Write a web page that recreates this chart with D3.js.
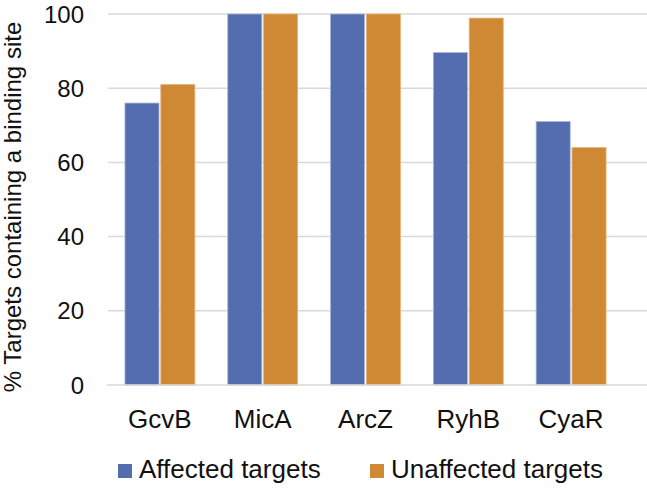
<!DOCTYPE html>
<html>
<head>
<meta charset="utf-8">
<script src="https://cdn.jsdelivr.net/npm/d3@7"></script>
<style>
  body { margin: 0; background: #fff; }
  text { font-family: "Liberation Sans", Arial, sans-serif; fill: #111; }
</style>
</head>
<body>
<div id="chart"></div>
<script>
// data
const categories = ["GcvB", "MicA", "ArcZ", "RyhB", "CyaR"];
const seriesNames = ["Affected targets", "Unaffected targets"];
const affected = [76, 100, 100, 89.6, 71];
const unaffected = [81, 100, 100, 98.9, 64];
const yTicks = [0, 20, 40, 60, 80, 100];

const colors = ["#546dae", "#cf8833"];
const width = 647, height = 489;

const svg = d3.select("#chart").append("svg")
  .attr("width", width)
  .attr("height", height);

const x0 = d3.scaleBand()
  .domain(categories)
  .range([108.5, 622.5])
  .paddingInner(0.32)
  .paddingOuter(0.16);

const x1 = d3.scaleBand()
  .domain(seriesNames)
  .range([0, x0.bandwidth()])
  .paddingInner(0.05);

const y = d3.scaleLinear()
  .domain([0, 100])
  .range([385, 14]);

// gridlines
svg.append("g")
  .selectAll("line")
  .data(yTicks.filter(d => d > 0))
  .join("line")
  .attr("x1", 108)
  .attr("x2", width)
  .attr("y1", d => y(d))
  .attr("y2", d => y(d))
  .attr("stroke", "#d9d9d9")
  .attr("stroke-width", 1.5);

// y tick labels
svg.append("g")
  .selectAll("text")
  .data(yTicks)
  .join("text")
  .attr("x", 84)
  .attr("y", d => y(d))
  .attr("dy", "0.36em")
  .attr("text-anchor", "end")
  .style("font-size", "24px")
  .text(d => d);

// bars
const rows = categories.map((c, i) => ({ cat: c, vals: [affected[i], unaffected[i]] }));

const groups = svg.append("g")
  .selectAll("g")
  .data(rows)
  .join("g")
  .attr("transform", d => `translate(${x0(d.cat)},0)`);

groups.selectAll("rect")
  .data(d => d.vals.map((v, j) => ({ key: seriesNames[j], v, j })))
  .join("rect")
  .attr("x", d => x1(d.key))
  .attr("width", x1.bandwidth())
  .attr("y", d => y(d.v))
  .attr("height", d => y(0) - y(d.v))
  .attr("fill", d => colors[d.j])
  .attr("stroke", d => d.j === 0 ? "#a9b6d8" : "#eab27a")
  .attr("stroke-width", 0.8);

// x axis line
svg.append("line")
  .attr("x1", 107)
  .attr("x2", width)
  .attr("y1", y(0))
  .attr("y2", y(0))
  .attr("stroke", "#d9d9d9")
  .attr("stroke-width", 1.5);

// category labels
svg.append("g")
  .selectAll("text")
  .data(categories)
  .join("text")
  .attr("x", d => x0(d) + x0.bandwidth() / 2)
  .attr("y", 428)
  .attr("text-anchor", "middle")
  .style("font-size", "26px")
  .text(d => d);

// y axis title
svg.append("text")
  .attr("transform", `translate(21,${207}) rotate(-90)`)
  .attr("text-anchor", "middle")
  .style("font-size", "24px")
  .text("% Targets containing a binding site");

// legend
const legendX = [118, 370];
const legend = svg.append("g")
  .selectAll("g")
  .data(seriesNames)
  .join("g")
  .attr("transform", (d, i) => `translate(${legendX[i]},464)`);

legend.append("rect")
  .attr("width", 14)
  .attr("height", 14)
  .attr("fill", (d, i) => colors[i]);

legend.append("text")
  .attr("x", 21)
  .attr("y", 14)
  .style("font-size", "26px")
  .text(d => d);
</script>
</body>
</html>
